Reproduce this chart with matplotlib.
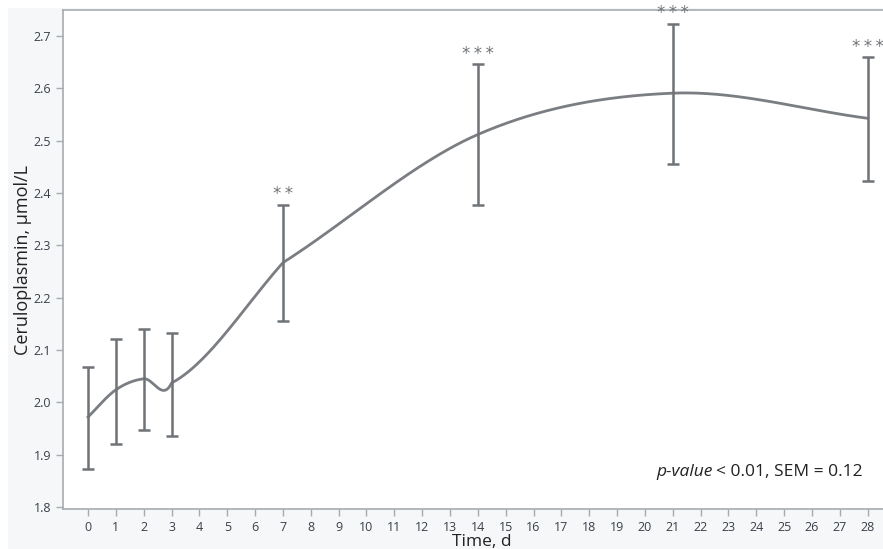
import numpy as np
import matplotlib.pyplot as plt
from matplotlib.patches import Rectangle

# Ceruloplasmin over time (mean +/- error)
days = [0, 1, 2, 3, 7, 14, 21, 28]
mean = [1.972, 2.024, 2.045, 2.037, 2.267, 2.512, 2.591, 2.543]
upper = [2.068, 2.122, 2.141, 2.132, 2.378, 2.646, 2.724, 2.660]
lower = [1.872, 1.921, 1.948, 1.935, 2.156, 2.377, 2.455, 2.424]
stars = ['', '', '', '', '**', '***', '***', '***']
xticks = list(range(0, 29))
yticks = [1.8, 1.9, 2.0, 2.1, 2.2, 2.3, 2.4, 2.5, 2.6, 2.7]

plt.rcParams['font.family'] = ['Open Sans', 'DejaVu Sans']


def smooth_line(xs, ys, n=80):
    # Catmull-Rom style tangents per point index, x linear inside each segment
    x = np.asarray(xs, float)
    y = np.asarray(ys, float)
    m = np.empty_like(y)
    m[1:-1] = (y[2:] - y[:-2]) / 2
    m[0] = y[1] - y[0]
    m[-1] = y[-1] - y[-2]
    t = np.linspace(0, 1, n)
    h00 = 2 * t ** 3 - 3 * t ** 2 + 1
    h10 = t ** 3 - 2 * t ** 2 + t
    h01 = -2 * t ** 3 + 3 * t ** 2
    h11 = t ** 3 - t ** 2
    xx, yy = [], []
    for i in range(len(x) - 1):
        xx.append(x[i] + t * (x[i + 1] - x[i]))
        yy.append(h00 * y[i] + h10 * m[i] + h01 * y[i + 1] + h11 * m[i + 1])
    return np.concatenate(xx), np.concatenate(yy)


fig = plt.figure(figsize=(8.83, 5.49), dpi=100, facecolor='white')
fig.patches.append(Rectangle((8 / 883, 0), 1, 1 - 8 / 549, transform=fig.transFigure,
                             facecolor='#f5f7f9', edgecolor='none', zorder=-5))
ax = fig.add_axes([63 / 883, 39.7 / 549, 1 - 63 / 883 + 0.02, 499.3 / 549])
ax.set_facecolor('white')

cx, cy = smooth_line(days, mean)
ax.plot(cx, cy, color='#7a7d82', lw=2, zorder=3)

err = [np.array(mean) - np.array(lower), np.array(upper) - np.array(mean)]
ax.errorbar(days, mean, yerr=err, fmt='none', ecolor='#6f7276', elinewidth=1.8,
            capsize=4, capthick=1.8, zorder=4)
for d, u, s in zip(days, upper, stars):
    if s:
        ax.text(d, u + 0.003, '\u2009'.join(s), ha='center', va='bottom', fontsize=12,
                color='#707377', family='DejaVu Sans')

t1 = ax.text(0.955, 0.075, '< 0.01, SEM = 0.12', transform=ax.transAxes,
             ha='right', va='center', fontsize=12.5, color='#222222')
fig.canvas.draw()
bb = t1.get_window_extent().transformed(ax.transAxes.inverted())
ax.text(bb.x0 - 0.004, 0.075, 'p-value', transform=ax.transAxes, ha='right',
        va='center', fontsize=12.5, style='italic', color='#222222')

ax.set_xlim(-0.9, 28.55 + 0.02 * 883 / 27.85)
ax.set_ylim(1.7955, 2.75)
ax.set_xticks(xticks)
ax.set_yticks(yticks)
ax.set_yticklabels([f'{v:.1f}' for v in yticks])
ax.tick_params(axis='both', direction='out', length=5, color='#a7abb0', width=1,
               labelsize=9, labelcolor='#3a3f48')
for side in ['left', 'bottom', 'top']:
    ax.spines[side].set_color('#a7abb0')
    ax.spines[side].set_linewidth(1.2)
ax.spines['right'].set_visible(False)

ax.set_ylabel('Ceruloplasmin, µmol/L', fontsize=13, color='#222222', labelpad=1)
ax.set_xlabel('Time, d', fontsize=12.5, color='#222222', labelpad=0)

fig.savefig('out.png', dpi=100, facecolor=fig.get_facecolor())
